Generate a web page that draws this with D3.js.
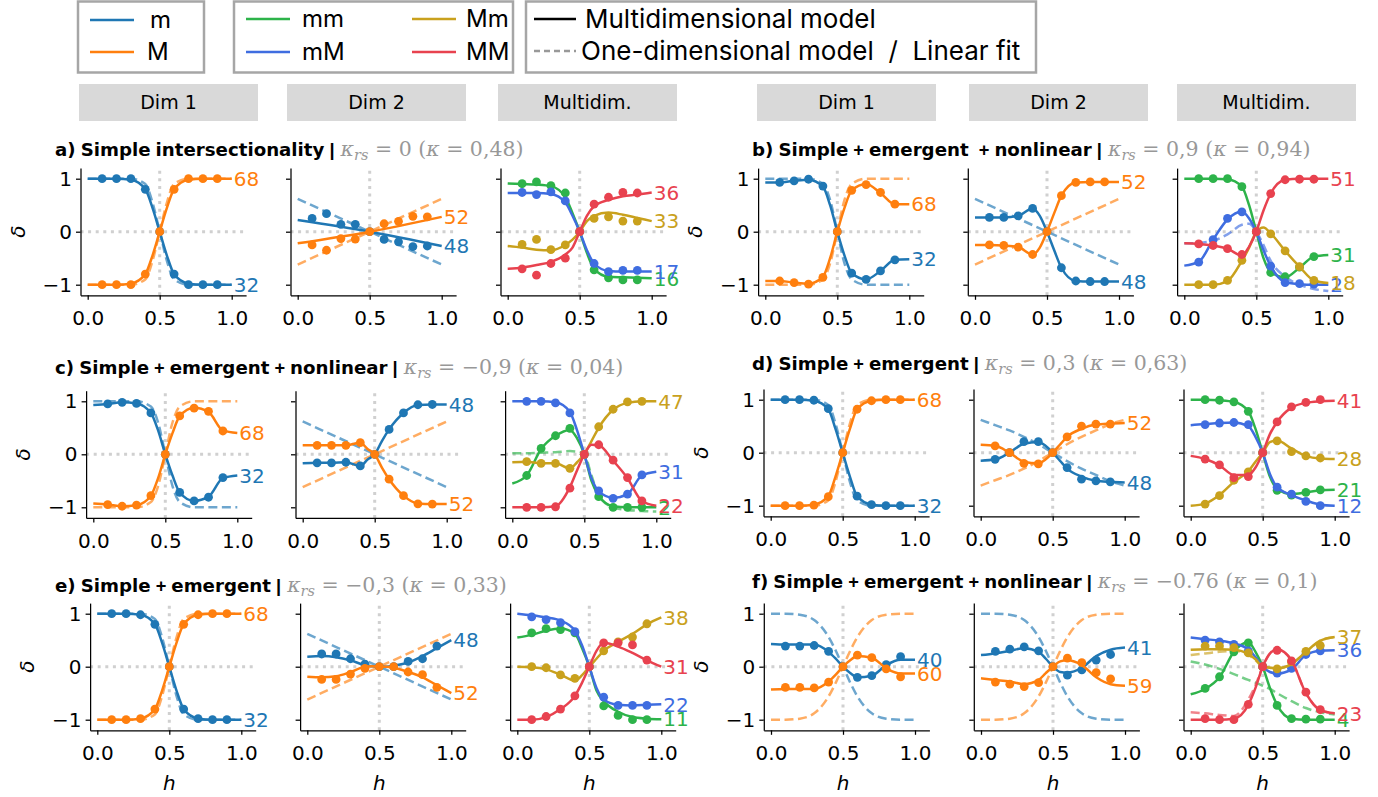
<!DOCTYPE html>
<html><head><meta charset="utf-8">
<script src="https://cdn.jsdelivr.net/npm/d3@7"></script>
<style>html,body{margin:0;padding:0;background:#fff;} svg{display:block;} text{white-space:pre;}</style>
</head><body>
<svg id="chart" width="1378" height="797"></svg>
<script>
// ---------- sample positions (h) ----------
const H  = [0, 0.1, 0.2, 0.3, 0.4, 0.45, 0.5, 0.55, 0.6, 0.7, 0.8, 0.9, 1];
const HD = [0.1, 0.2, 0.3, 0.4, 0.5, 0.6, 0.7, 0.8, 0.9];
const HL = [0, 1];
const H3 = [0, 0.5, 1];

// ---------- titles ----------
const titles = ["a) Simple intersectionality", "b) Simple + emergent  + nonlinear", "c) Simple + emergent + nonlinear",
                "d) Simple + emergent", "e) Simple + emergent", "f) Simple + emergent + nonlinear"];
const kappaRs = ["0", "0,9", "\u22120,9", "0,3", "\u22120,3", "\u22120.76"];
const kappa   = ["0,48", "0,94", "0,04", "0,63", "0,33", "0,1"];
const headerLabels = ["Dim 1", "Dim 2", "Multidim."];
const xTicks = [0, 0.5, 1];
const yTicks = [-1, 0, 1];

// ---------- shares (end labels): m, M (dim1), m, M (dim2), mm, mM, Mm, MM ----------
const aShares = ["32","68","48","52","16","17","33","36"];
const bShares = ["32","68","48","52","31","2","18","51"];
const cShares = ["32","68","48","52","2","31","47","22"];
const dShares = ["32","68","48","52","21","12","28","41"];
const eShares = ["32","68","48","52","11","22","38","31"];
const fShares = ["40","60","41","59","4","36","37","23"];

// ---------- panel a ----------
const aD1_m     = [1,1,1,0.98,0.8,0.45,0,-0.45,-0.8,-0.98,-1,-1,-1];
const aD1_mFit  = [1,1,1,1,0.9,0.55,0,-0.55,-0.9,-1,-1,-1,-1];
const aD1_mObs  = [1,1,1,0.8,0,-0.8,-1,-1,-1];
const aD1_M     = [-1,-1,-1,-0.98,-0.8,-0.45,0,0.45,0.8,0.98,1,1,1];
const aD1_MFit  = [-1,-1,-1,-1,-0.9,-0.55,0,0.55,0.9,1,1,1,1];
const aD1_MObs  = [-1,-1,-1,-0.8,0,0.8,1,1,1];
const aD2_m     = [0.22,0,-0.27];
const aD2_mFit  = [0.62,-0.62];
const aD2_mObs  = [0.25,0.34,0.14,0.14,0,-0.145,-0.19,-0.28,-0.27];
const aD2_M     = [-0.22,0,0.28];
const aD2_MFit  = [-0.62,0.62];
const aD2_MObs  = [-0.25,-0.35,-0.13,-0.14,0,0.15,0.195,0.29,0.28];
const aMD_mm    = [0.91,0.9,0.89,0.86,0.65,0.35,0,-0.4,-0.7,-0.85,-0.86,-0.87,-0.88];
const aMD_mmObs = [0.905,0.94,0.87,0.73,0,-0.72,-0.87,-0.91,-0.91];
const aMD_mM    = [0.73,0.73,0.73,0.71,0.55,0.3,0,-0.35,-0.6,-0.74,-0.75,-0.75,-0.75];
const aMD_mMObs = [0.74,0.7,0.75,0.58,0,-0.6,-0.755,-0.73,-0.73];
const aMD_Mm    = [-0.27,-0.3,-0.34,-0.35,-0.25,-0.15,0,0.2,0.3,0.36,0.32,0.26,0.2];
const aMD_MmObs = [-0.24,-0.145,-0.34,-0.25,0,0.25,0.28,0.2,0.2];
const aMD_MM    = [-0.7,-0.68,-0.63,-0.57,-0.43,-0.3,0,0.3,0.48,0.6,0.67,0.7,0.74];
const aMD_MMObs = [-0.7,-0.82,-0.6,-0.5,0,0.52,0.65,0.74,0.73];

// ---------- panel b ----------
const bD1_m     = [0.93,0.93,0.96,0.98,0.85,0.5,0,-0.45,-0.78,-0.9,-0.74,-0.53,-0.52];
const bD1_mFit  = [1,1,1,1,0.9,0.6,0,-0.6,-0.9,-1,-1,-1,-1];
const bD1_mObs  = [0.93,0.96,0.99,0.86,0,-0.78,-0.9,-0.74,-0.53];
const bD1_M     = [-0.93,-0.93,-0.96,-0.98,-0.85,-0.5,0,0.45,0.78,0.9,0.73,0.52,0.52];
const bD1_MFit  = [-1,-1,-1,-1,-0.9,-0.6,0,0.6,0.9,1,1,1,1];
const bD1_MObs  = [-0.93,-0.96,-0.99,-0.86,0,0.78,0.89,0.74,0.52];
const bD2_m     = [0.27,0.27,0.27,0.3,0.44,0.3,0,-0.35,-0.68,-0.93,-0.94,-0.94,-0.94];
const bD2_mFit  = [0.62,-0.62];
const bD2_mObs  = [0.27,0.27,0.3,0.44,0,-0.68,-0.93,-0.94,-0.94];
const bD2_M     = [-0.25,-0.25,-0.26,-0.29,-0.43,-0.3,0,0.35,0.68,0.93,0.94,0.94,0.94];
const bD2_MFit  = [-0.62,0.62];
const bD2_MObs  = [-0.25,-0.26,-0.29,-0.43,0,0.68,0.93,0.94,0.94];
const bMD_mm    = [1,1,1,0.99,0.85,0.5,0,-0.5,-0.76,-0.86,-0.68,-0.47,-0.44];
const bMD_mmObs = [1,1,1,0.85,0,-0.77,-0.85,-0.67,-0.47];
const bMD_mM    = [-0.64,-0.57,-0.15,0.23,0.38,0.25,0,-0.35,-0.65,-0.95,-0.99,-1,-1];
const bMD_mMFit = [-0.22,-0.21,-0.17,-0.05,0.13,0.15,0,-0.25,-0.55,-0.85,-1.0,-1.08,-1.12];
const bMD_mMObs = [-0.575,-0.15,0.25,0.375,0,-0.65,-0.96,-0.98,-0.99];
const bMD_Mm    = [-1,-1,-1,-0.93,-0.55,-0.3,0,0.08,-0.03,-0.36,-0.66,-0.92,-0.97];
const bMD_MmObs = [-1,-1,-0.92,-0.54,0,-0.04,-0.36,-0.66,-0.92];
const bMD_MM    = [-0.22,-0.23,-0.26,-0.32,-0.45,-0.28,0,0.4,0.72,0.98,1,1,1];
const bMD_MMObs = [-0.23,-0.26,-0.32,-0.43,0,0.72,0.98,0.99,0.99];

// ---------- panel c ----------
const cD1_m     = [0.93,0.95,0.98,0.96,0.78,0.45,0,-0.4,-0.72,-0.88,-0.8,-0.45,-0.4];
const cD1_mFit  = [1,1,1,1,0.9,0.6,0,-0.6,-0.9,-1,-1,-1,-1];
const cD1_mObs  = [0.95,0.98,0.96,0.78,0,-0.72,-0.88,-0.81,-0.44];
const cD1_M     = [-0.93,-0.95,-0.98,-0.96,-0.78,-0.45,0,0.4,0.72,0.88,0.8,0.45,0.4];
const cD1_MFit  = [-1,-1,-1,-1,-0.9,-0.6,0,0.6,0.9,1,1,1,1];
const cD1_MObs  = [-0.95,-0.98,-0.96,-0.78,0,0.725,0.87,0.81,0.44];
const cD2_m     = [-0.17,-0.16,-0.16,-0.15,-0.22,-0.1,0,0.25,0.47,0.78,0.93,0.94,0.94];
const cD2_mFit  = [0.62,-0.62];
const cD2_mObs  = [-0.16,-0.16,-0.15,-0.22,0,0.47,0.78,0.935,0.94];
const cD2_M     = [0.17,0.17,0.17,0.17,0.22,0.1,0,-0.25,-0.47,-0.78,-0.93,-0.94,-0.94];
const cD2_MFit  = [-0.62,0.62];
const cD2_MObs  = [0.17,0.17,0.17,0.22,0,-0.47,-0.78,-0.935,-0.94];
const cMD_mm    = [-0.55,-0.4,0.1,0.35,0.46,0.3,0,-0.5,-0.78,-0.98,-1,-1,-1];
const cMD_mmFit = [0.02,0.02,0.03,0.04,0.06,0.05,0,-0.4,-0.78,-1,-1.05,-1.07,-1.08];
const cMD_mmObs = [-0.4,0.11,0.35,0.49,0,-0.8,-1,-1,-1];
const cMD_mM    = [1,1,1,0.98,0.8,0.45,0,-0.45,-0.7,-0.82,-0.75,-0.4,-0.33];
const cMD_mMObs = [1,1,0.97,0.78,0,-0.69,-0.83,-0.75,-0.39];
const cMD_Mm    = [-0.15,-0.14,-0.17,-0.17,-0.27,-0.15,0,0.25,0.5,0.84,0.97,1,1];
const cMD_MmObs = [-0.14,-0.17,-0.17,-0.265,0,0.52,0.85,0.99,1.0];
const cMD_MM    = [-1,-1,-1,-0.98,-0.62,-0.3,0,0.18,0.17,-0.12,-0.45,-0.88,-0.97];
const cMD_MMObs = [-1,-1,-0.99,-0.64,0,0.18,-0.11,-0.44,-0.88];

// ---------- panel d ----------
const dD1_m     = [1,1,1,0.98,0.82,0.45,0,-0.45,-0.82,-0.98,-1,-1,-1];
const dD1_mFit  = [1,1,1,1,0.9,0.55,0,-0.55,-0.9,-1,-1,-1,-1];
const dD1_mObs  = [1,1,0.99,0.83,0,-0.82,-0.98,-1,-1];
const dD1_M     = [-1,-1,-1,-0.98,-0.82,-0.45,0,0.45,0.82,0.98,1,1,1];
const dD1_MFit  = [-1,-1,-1,-1,-0.9,-0.55,0,0.55,0.9,1,1,1,1];
const dD1_MObs  = [-1,-1,-0.99,-0.83,0,0.82,0.98,1,1];
const dD2_m     = [-0.15,-0.13,0.0,0.17,0.2,0.13,0,-0.15,-0.3,-0.45,-0.53,-0.55,-0.56];
const dD2_mFit  = [0.62,0.52,0.42,0.3,0.16,0.08,0,-0.08,-0.16,-0.3,-0.42,-0.54,-0.62];
const dD2_mObs  = [-0.125,0,0.21,0.21,0,-0.28,-0.5,-0.53,-0.55];
const dD2_M     = [0.15,0.13,0,-0.17,-0.2,-0.13,0,0.15,0.3,0.45,0.53,0.55,0.56];
const dD2_MFit  = [-0.62,-0.52,-0.42,-0.3,-0.16,-0.08,0,0.08,0.16,0.3,0.42,0.54,0.62];
const dD2_MObs  = [0.13,0,-0.2,-0.21,0,0.3,0.5,0.54,0.54];
const dMD_mm    = [1,1,0.99,0.96,0.78,0.45,0,-0.45,-0.68,-0.78,-0.75,-0.71,-0.7];
const dMD_mmObs = [1,0.99,0.96,0.78,0,-0.71,-0.8,-0.75,-0.7];
const dMD_mM    = [0.52,0.54,0.56,0.57,0.5,0.3,0,-0.4,-0.65,-0.8,-0.9,-0.98,-1];
const dMD_mMObs = [0.53,0.56,0.57,0.53,0,-0.65,-0.78,-0.92,-1.0];
const dMD_Mm    = [-1,-0.96,-0.8,-0.55,-0.35,-0.17,0,0.2,0.23,0.08,-0.06,-0.11,-0.12];
const dMD_MmObs = [-0.97,-0.81,-0.52,-0.36,0,0.225,0.02,-0.06,-0.1];
const dMD_MM    = [-0.06,-0.12,-0.24,-0.42,-0.42,-0.28,0,0.35,0.58,0.85,0.94,0.97,0.98];
const dMD_MMObs = [-0.12,-0.23,-0.47,-0.45,0,0.58,0.865,0.95,1.0];

// ---------- panel e ----------
const eD1_m     = [1,1,1,0.98,0.8,0.45,0,-0.45,-0.8,-0.98,-1,-1,-1];
const eD1_mFit  = [1,1,1,1,0.9,0.55,0,-0.55,-0.9,-1,-1,-1,-1];
const eD1_mObs  = [1,1,0.98,0.8,0,-0.8,-0.98,-1,-1];
const eD1_M     = [-1,-1,-1,-0.98,-0.8,-0.45,0,0.45,0.8,0.98,1,1,1];
const eD1_MFit  = [-1,-1,-1,-1,-0.9,-0.55,0,0.55,0.9,1,1,1,1];
const eD1_MObs  = [-1,-1,-0.98,-0.8,0,0.8,0.98,1,1];
const eD2_m     = [0.19,0.2,0.18,0.12,0.03,0.01,0,0,0.02,0.08,0.2,0.35,0.5];
const eD2_mFit  = [0.62,-0.62];
const eD2_mObs  = [0.24,0.24,0.15,0.05,0,0,0.1,0.15,0.39];
const eD2_M     = [-0.19,-0.2,-0.18,-0.1,0.0,0.01,0,0,-0.02,-0.1,-0.2,-0.35,-0.5];
const eD2_MFit  = [-0.62,0.62];
const eD2_MObs  = [-0.24,-0.24,-0.14,-0.03,0,0,-0.1,-0.15,-0.39];
const eMD_mm    = [0.55,0.6,0.68,0.72,0.62,0.35,0,-0.45,-0.65,-0.85,-0.95,-0.98,-0.99];
const eMD_mmObs = [0.64,0.72,0.7,0.64,0,-0.74,-0.92,-1,-1];
const eMD_mM    = [1,0.97,0.93,0.87,0.68,0.4,0,-0.4,-0.62,-0.72,-0.73,-0.72,-0.71];
const eMD_mMObs = [0.94,0.89,0.83,0.66,0,-0.575,-0.73,-0.73,-0.73];
const eMD_Mm    = [0,-0.01,-0.05,-0.15,-0.26,-0.16,0,0.15,0.3,0.47,0.62,0.8,0.93];
const eMD_MmObs = [0,-0.02,-0.155,-0.22,0,0.3,0.47,0.56,0.81];
const eMD_MM    = [-1,-1,-0.95,-0.8,-0.55,-0.3,0,0.3,0.45,0.38,0.26,0.12,0];
const eMD_MMObs = [-1,-0.94,-0.8,-0.55,0,0.45,0.45,0.41,0.125];

// ---------- panel f ----------
const fD1_m     = [0.43,0.42,0.42,0.42,0.28,0.15,0,-0.12,-0.2,-0.17,0.03,0.13,0.13];
const fD1_mFit  = [1,1,0.98,0.88,0.56,0.3,0,-0.3,-0.56,-0.88,-0.98,-1,-1];
const fD1_mObs  = [0.39,0.39,0.4,0.29,0,-0.2,-0.17,0.04,0.19];
const fD1_M     = [-0.43,-0.42,-0.42,-0.42,-0.28,-0.15,0,0.12,0.2,0.17,-0.03,-0.13,-0.13];
const fD1_MFit  = [-1,-1,-0.98,-0.88,-0.56,-0.3,0,0.3,0.56,0.88,0.98,1,1];
const fD1_MObs  = [-0.39,-0.39,-0.4,-0.29,0,0.22,0.17,-0.04,-0.19];
const fD2_m     = [0.22,0.25,0.3,0.35,0.28,0.15,0,-0.1,-0.11,-0.02,0.2,0.32,0.36];
const fD2_mFit  = [1,1,0.98,0.88,0.56,0.3,0,-0.3,-0.56,-0.88,-0.98,-1,-1];
const fD2_mObs  = [0.29,0.33,0.375,0.3,0,-0.16,-0.06,0.125,0.23];
const fD2_M     = [-0.22,-0.25,-0.28,-0.33,-0.25,-0.12,0,0.1,0.12,0.03,-0.2,-0.33,-0.36];
const fD2_MFit  = [-1,-1,-0.98,-0.88,-0.56,-0.3,0,0.3,0.56,0.88,0.98,1,1];
const fD2_MObs  = [-0.29,-0.33,-0.375,-0.3,0,0.16,0.075,-0.11,-0.23];
const fMD_mm    = [-0.52,-0.42,-0.2,0.28,0.46,0.28,0,-0.4,-0.72,-0.98,-1,-1,-1];
const fMD_mmFit = [0.1,0.04,-0.04,-0.14,-0.25,-0.3,-0.36,-0.42,-0.5,-0.65,-0.78,-0.86,-0.9];
const fMD_mmObs = [-0.41,-0.19,0.28,0.45,0,-0.73,-0.98,-0.99,-0.99];
const fMD_mM    = [0.55,0.52,0.49,0.44,0.33,0.18,0,-0.1,-0.13,-0.05,0.22,0.3,0.31];
const fMD_mMObs = [0.5,0.47,0.42,0.3,0,-0.12,-0.03,0.23,0.3];
const fMD_Mm    = [0.32,0.33,0.33,0.32,0.24,0.14,0,-0.02,-0.03,0.05,0.28,0.49,0.56];
const fMD_MmFit = [0.22,0.25,0.28,0.3,0.22,0.12,0,-0.02,-0.03,0.05,0.28,0.49,0.56];
const fMD_MmObs = [0.39,0.39,0.36,0.26,0,-0.04,0.09,0.29,0.4];
const fMD_MM    = [-1,-1,-1,-0.98,-0.72,-0.4,0,0.25,0.33,0.12,-0.5,-0.82,-0.88];
const fMD_MMFit = [-0.86,-0.88,-0.91,-0.93,-0.62,-0.35,0,0.25,0.33,0.12,-0.5,-0.82,-0.88];
const fMD_MMObs = [-0.98,-1,-1,-0.71,0,0.31,0.11,-0.48,-0.81];

// ---------- styling / layout (not data) ----------
const COL = {m:"#1f77b4", M:"#ff7f0e", mm:"#2db34a", mM:"#3f6de0", Mm:"#c9a11d", MM:"#e8424f"};
const UI = "'DejaVu Sans', sans-serif";
const NARROW = "'Liberation Sans', Arial, sans-serif";
const LEG = "Inter, 'DejaVu Sans', sans-serif";
const MPL = "'DejaVu Sans', sans-serif";
const SERIF = "'DejaVu Serif', serif";
const UX = 144, UY = 53;
const layout = [
  {xs:[87.7, 297.7, 507.7],  y0:231.7, tx:55,  ty:156},
  {xs:[765.3, 975, 1184.3],  y0:231.7, tx:752, ty:156},
  {xs:[93.3, 302.7, 512.3],  y0:454.3, tx:55,  ty:373.5},
  {xs:[770.7, 980.7, 1190.7],y0:452.7, tx:752, ty:369.5},
  {xs:[97.3, 307.3, 517.3],  y0:666.7, tx:55,  ty:591.5, xlabel:true},
  {xs:[771, 981, 1190.7],    y0:666.7, tx:752, ty:587.5, xlabel:true}
];

function S(key, model, fit, obs, share, mh = H, fh = H) { return {key, model, fit, obs, share, mh, fh}; }

const panels = [
  [[S("m",aD1_m,aD1_mFit,aD1_mObs,aShares[0]), S("M",aD1_M,aD1_MFit,aD1_MObs,aShares[1])],
   [S("m",aD2_m,aD2_mFit,aD2_mObs,aShares[2],H3,HL), S("M",aD2_M,aD2_MFit,aD2_MObs,aShares[3],H3,HL)],
   [S("mm",aMD_mm,null,aMD_mmObs,aShares[4]), S("mM",aMD_mM,null,aMD_mMObs,aShares[5]),
    S("Mm",aMD_Mm,null,aMD_MmObs,aShares[6]), S("MM",aMD_MM,null,aMD_MMObs,aShares[7])]],
  [[S("m",bD1_m,bD1_mFit,bD1_mObs,bShares[0]), S("M",bD1_M,bD1_MFit,bD1_MObs,bShares[1])],
   [S("m",bD2_m,bD2_mFit,bD2_mObs,bShares[2],H,HL), S("M",bD2_M,bD2_MFit,bD2_MObs,bShares[3],H,HL)],
   [S("mm",bMD_mm,null,bMD_mmObs,bShares[4]), S("mM",bMD_mM,bMD_mMFit,bMD_mMObs,bShares[5]),
    S("Mm",bMD_Mm,null,bMD_MmObs,bShares[6]), S("MM",bMD_MM,null,bMD_MMObs,bShares[7])]],
  [[S("m",cD1_m,cD1_mFit,cD1_mObs,cShares[0]), S("M",cD1_M,cD1_MFit,cD1_MObs,cShares[1])],
   [S("m",cD2_m,cD2_mFit,cD2_mObs,cShares[2],H,HL), S("M",cD2_M,cD2_MFit,cD2_MObs,cShares[3],H,HL)],
   [S("mm",cMD_mm,cMD_mmFit,cMD_mmObs,cShares[4]), S("mM",cMD_mM,null,cMD_mMObs,cShares[5]),
    S("Mm",cMD_Mm,null,cMD_MmObs,cShares[6]), S("MM",cMD_MM,null,cMD_MMObs,cShares[7])]],
  [[S("m",dD1_m,dD1_mFit,dD1_mObs,dShares[0]), S("M",dD1_M,dD1_MFit,dD1_MObs,dShares[1])],
   [S("m",dD2_m,dD2_mFit,dD2_mObs,dShares[2]), S("M",dD2_M,dD2_MFit,dD2_MObs,dShares[3])],
   [S("mm",dMD_mm,null,dMD_mmObs,dShares[4]), S("mM",dMD_mM,null,dMD_mMObs,dShares[5]),
    S("Mm",dMD_Mm,null,dMD_MmObs,dShares[6]), S("MM",dMD_MM,null,dMD_MMObs,dShares[7])]],
  [[S("m",eD1_m,eD1_mFit,eD1_mObs,eShares[0]), S("M",eD1_M,eD1_MFit,eD1_MObs,eShares[1])],
   [S("m",eD2_m,eD2_mFit,eD2_mObs,eShares[2],H,HL), S("M",eD2_M,eD2_MFit,eD2_MObs,eShares[3],H,HL)],
   [S("mm",eMD_mm,null,eMD_mmObs,eShares[4]), S("mM",eMD_mM,null,eMD_mMObs,eShares[5]),
    S("Mm",eMD_Mm,null,eMD_MmObs,eShares[6]), S("MM",eMD_MM,null,eMD_MMObs,eShares[7])]],
  [[S("m",fD1_m,fD1_mFit,fD1_mObs,fShares[0]), S("M",fD1_M,fD1_MFit,fD1_MObs,fShares[1])],
   [S("m",fD2_m,fD2_mFit,fD2_mObs,fShares[2]), S("M",fD2_M,fD2_MFit,fD2_MObs,fShares[3])],
   [S("mm",fMD_mm,fMD_mmFit,fMD_mmObs,fShares[4]), S("mM",fMD_mM,null,fMD_mMObs,fShares[5]),
    S("Mm",fMD_Mm,fMD_MmFit,fMD_MmObs,fShares[6]), S("MM",fMD_MM,fMD_MMFit,fMD_MMObs,fShares[7])]]
];

const svg = d3.select("#chart");
svg.append("rect").attr("width",1378).attr("height",797).attr("fill","#fff");

// ---------- legend ----------
const legendBoxes = [{x:78,w:126},{x:234,w:279},{x:526,w:510}];
legendBoxes.forEach(b => svg.append("rect").attr("x",b.x).attr("y",1.5).attr("width",b.w).attr("height",71)
  .attr("fill","#fff").attr("stroke","#a6a6a6").attr("stroke-width",2.5));
const legendItems = [
  {key:"m",  x1:90,  x2:134, y:20, tx:150, label:"m"},
  {key:"M",  x1:90,  x2:134, y:52, tx:147, label:"M"},
  {key:"mm", x1:246, x2:290, y:19, tx:302, label:"mm"},
  {key:"mM", x1:246, x2:290, y:52, tx:302, label:"mM"},
  {key:"Mm", x1:412, x2:456, y:19, tx:466, label:"Mm"},
  {key:"MM", x1:412, x2:456, y:52, tx:466, label:"MM"}
];
legendItems.forEach(it => {
  svg.append("line").attr("x1",it.x1).attr("x2",it.x2).attr("y1",it.y).attr("y2",it.y)
    .attr("stroke",COL[it.key]).attr("stroke-width",2.5);
  svg.append("text").attr("x",it.tx).attr("y",it.y).attr("dy","0.35em").attr("font-family",LEG)
    .attr("font-size",24).attr("fill","#000").text(it.label);
});
svg.append("line").attr("x1",534).attr("x2",576).attr("y1",19).attr("y2",19).attr("stroke","#000").attr("stroke-width",2.5);
svg.append("text").attr("x",585).attr("y",19).attr("dy","0.35em").attr("font-family",LEG).attr("font-size",26).text("Multidimensional model");
svg.append("line").attr("x1",534).attr("x2",576).attr("y1",51).attr("y2",51).attr("stroke","#999").attr("stroke-width",2.5).attr("stroke-dasharray","6,4");
svg.append("text").attr("x",581).attr("y",51).attr("dy","0.35em").attr("font-family",LEG).attr("font-size",26).text("One-dimensional model  /  Linear fit");

// ---------- headers ----------
const headerX = [[79,287,498],[757,969,1177]];
headerX.forEach(row => row.forEach((hx,i) => {
  svg.append("rect").attr("x",hx).attr("y",84).attr("width",179).attr("height",37).attr("fill","#d9d9d9");
  svg.append("text").attr("x",hx+89.5).attr("y",102.5).attr("dy","0.35em").attr("text-anchor","middle")
    .attr("font-family",UI).attr("font-size",19).text(headerLabels[i]);
}));

// ---------- panels ----------
function styleAxis(g) {
  g.select(".domain").attr("stroke","#000").attr("stroke-width",1.25);
  g.selectAll(".tick line").attr("stroke","#000").attr("stroke-width",1.25);
  g.selectAll(".tick text").attr("font-family",MPL).attr("font-size",20).attr("fill","#000");
}

function drawSub(series, x0, y0, first, xlabel) {
  const g = svg.append("g");
  const x = d3.scaleLinear().domain([-0.05,1.1]).range([x0-0.05*UX, x0+1.1*UX]);
  const y = d3.scaleLinear().domain([-1.2,1.2]).range([y0+1.2*UY, y0-1.2*UY]);
  const ref = {stroke:"#d0d0d0", w:3, dash:"3,4.6"};
  g.append("line").attr("x1",x(-0.05)).attr("x2",x(1.1)).attr("y1",y(0)).attr("y2",y(0))
    .attr("stroke",ref.stroke).attr("stroke-width",ref.w).attr("stroke-dasharray",ref.dash);
  g.append("line").attr("x1",x(0.5)).attr("x2",x(0.5)).attr("y1",y(-1.2)).attr("y2",y(1.2))
    .attr("stroke",ref.stroke).attr("stroke-width",ref.w).attr("stroke-dasharray",ref.dash);
  g.append("g").attr("transform",`translate(${x(-0.05)},0)`)
    .call(d3.axisLeft(y).tickValues(yTicks).tickSizeInner(4.5).tickSizeOuter(0).tickPadding(4)
      .tickFormat(first ? d3.format("d") : () => "")).call(styleAxis);
  g.append("g").attr("transform",`translate(0,${y(-1.2)})`)
    .call(d3.axisBottom(x).tickValues(xTicks).tickSizeInner(4.5).tickSizeOuter(0).tickPadding(11)
      .tickFormat(d3.format(".1f"))).call(styleAxis);
  const lineGen = hs => d3.line().x((d,i) => x(hs[i])).y(d => y(d)).curve(d3.curveMonotoneX);
  series.forEach(s => {
    if (!s.fit) return;
    g.append("path").attr("d", lineGen(s.fh)(s.fit)).attr("fill","none").attr("stroke",COL[s.key])
      .attr("stroke-width",2.5).attr("stroke-dasharray","9,4.5").attr("opacity",0.65);
  });
  series.forEach(s => {
    g.append("path").attr("d", lineGen(s.mh)(s.model)).attr("fill","none").attr("stroke",COL[s.key])
      .attr("stroke-width",2.5).attr("stroke-linejoin","round");
    g.append("g").selectAll("circle").data(s.obs).join("circle")
      .attr("cx",(d,i) => x(HD[i])).attr("cy",d => y(d)).attr("r",4.4).attr("fill",COL[s.key]);
    g.append("text").attr("x",x(1)+2).attr("y",y(s.model[s.model.length-1])).attr("dy","0.36em")
      .attr("font-family",MPL).attr("font-size",20).attr("fill",COL[s.key]).text(s.share);
  });
  if (first) {
    g.append("text").attr("transform",`translate(${x0-70},${y0}) rotate(-90)`).attr("text-anchor","middle")
      .attr("dy","0.35em").attr("font-family",MPL).attr("font-style","italic").attr("font-size",20).text("\u03b4");
  }
  if (xlabel) {
    g.append("text").attr("x",x(0.5)).attr("y",y(-1.2)+60).attr("text-anchor","middle")
      .attr("font-family",MPL).attr("font-style","italic").attr("font-size",20).text("h");
  }
}

function addTitle(p, L) {
  const t = svg.append("text").attr("x",L.tx).attr("y",L.ty);
  const tokens = titles[p].split(/([ +]+)/).filter(s => s.length);
  tokens.forEach(tok => {
    const sep = /^[ +]+$/.test(tok);
    t.append("tspan").attr("font-family", sep ? NARROW : UI).attr("font-weight",700)
      .attr("font-size",18.2).attr("fill","#000").text(tok);
  });
  t.append("tspan").attr("font-family",NARROW).attr("font-weight",700).attr("font-size",18.2).attr("fill","#000").text(" | ");
  const gray = "#989898", fs = 20.5;
  t.append("tspan").attr("font-family",SERIF).attr("font-style","italic").attr("fill",gray).attr("font-size",fs).attr("dx",1).text("\u03ba");
  t.append("tspan").attr("font-family",SERIF).attr("font-style","italic").attr("fill",gray).attr("font-size",14.5).attr("dy",4).text("rs");
  t.append("tspan").attr("font-family",SERIF).attr("fill",gray).attr("font-size",fs).attr("dy",-4).text(" = " + kappaRs[p] + " (");
  t.append("tspan").attr("font-family",SERIF).attr("font-style","italic").attr("fill",gray).attr("font-size",fs).text("\u03ba");
  t.append("tspan").attr("font-family",SERIF).attr("fill",gray).attr("font-size",fs).text(" = " + kappa[p] + ")");
}

panels.forEach((subs, p) => {
  const L = layout[p];
  subs.forEach((series, i) => drawSub(series, L.xs[i], L.y0, i === 0, !!L.xlabel));
  addTitle(p, L);
});
</script>
</body></html>
